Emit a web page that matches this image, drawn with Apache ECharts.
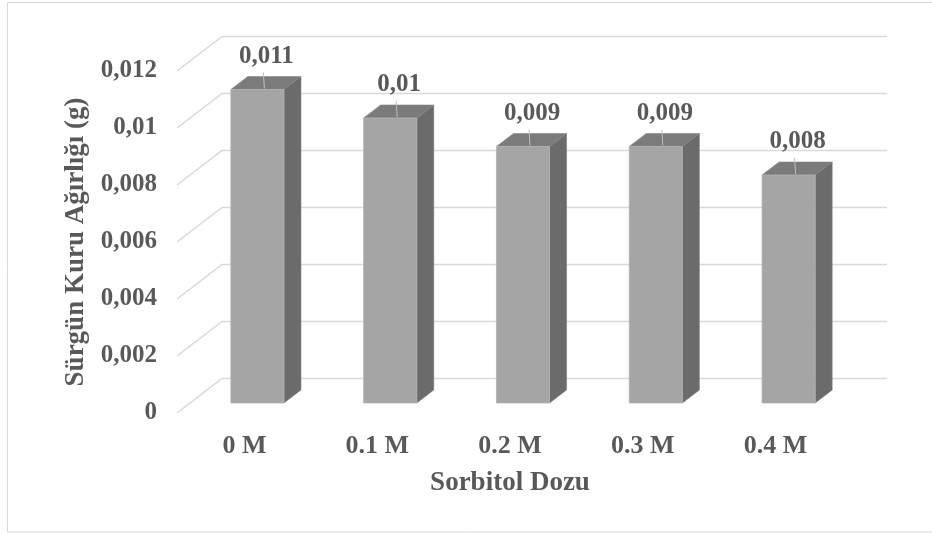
<!DOCTYPE html>
<html>
<head>
<meta charset="utf-8">
<script src="https://cdn.jsdelivr.net/npm/echarts@6/dist/echarts.min.js"></script>
<style>
html,body{margin:0;padding:0;background:#fff;}
#main{width:932px;height:534px;}
</style>
</head>
<body>
<div id="main"></div>
<script>
var categories = ['0 M', '0.1 M', '0.2 M', '0.3 M', '0.4 M'];
var values = [0.011, 0.010, 0.009, 0.009, 0.008];
var yTicks = [0, 0.002, 0.004, 0.006, 0.008, 0.010, 0.012];
var xTitle = 'Sorbitol Dozu';
var yTitle = 'Sürgün Kuru Ağırlığı (g)';

var FONT = '"Liberation Serif", "Times New Roman", serif';
var TXT = '#595959';

function fmt(v) {
  if (v === 0) return '0';
  return String(+v.toFixed(3)).replace('.', ',');
}

var chart = echarts.init(document.getElementById('main'), null, {renderer: 'canvas'});

// depth geometry (oblique projection)
var WALL_DX = 45, WALL_DY = -34.5;     // front plane -> back wall
var BAR_DX = 13, BAR_DY = -10;         // front plane -> bar front face
var SIDE_DX = 17, SIDE_DY = -13;       // bar thickness in depth
var WALL_RIGHT = 887;

var option = {
  animation: false,
  backgroundColor: '#ffffff',
  graphic: [{
    type: 'rect',
    shape: {x: 7.5, y: 2.5, width: 935, height: 529.5},
    style: {fill: 'none', stroke: '#d9d9d9', lineWidth: 1},
    silent: true
  }],
  grid: {left: 178, right: 90, top: 71, bottom: 121, containLabel: false},
  xAxis: {
    type: 'category',
    data: categories,
    boundaryGap: true,
    axisLine: {show: false},
    axisTick: {show: false},
    axisLabel: {
      margin: 20,
      fontFamily: FONT, fontWeight: 'bold', fontSize: 26, color: TXT
    },
    name: xTitle,
    nameLocation: 'middle',
    nameGap: 57,
    nameTextStyle: {fontFamily: FONT, fontWeight: 'bold', fontSize: 27, color: TXT}
  },
  yAxis: {
    type: 'value',
    min: 0, max: 0.012, interval: 0.002,
    axisLine: {show: false},
    axisTick: {show: false},
    splitLine: {show: false},
    axisLabel: {
      margin: 21,
      formatter: fmt,
      fontFamily: FONT, fontWeight: 'bold', fontSize: 25, color: TXT
    },
    name: yTitle,
    nameLocation: 'middle',
    nameRotate: 90,
    nameGap: 88,
    nameTextStyle: {fontFamily: FONT, fontWeight: 'bold', fontSize: 27, color: TXT}
  },
  series: [
    {
      type: 'custom',
      name: 'grid3d',
      silent: true,
      z: 1,
      data: yTicks.map(function (t) { return [0, t]; }),
      renderItem: function (params, api) {
        var y = api.coord([0, api.value(1)])[1];
        var x0 = params.coordSys.x - 1;
        return {
          type: 'polyline',
          shape: {points: [[x0, y], [x0 + WALL_DX, y + WALL_DY], [WALL_RIGHT, y + WALL_DY]]},
          style: {stroke: '#d9d9d9', lineWidth: 1.5, fill: 'none'}
        };
      }
    },
    {
      type: 'custom',
      name: 'bars',
      z: 5,
      data: values.map(function (v, i) { return [i, v]; }),
      renderItem: function (params, api) {
        var idx = api.value(0), v = api.value(1);
        var base = api.coord([idx, 0]);
        var top = api.coord([idx, v]);
        var bw = api.size([1, 0])[0] * 0.4;
        var cx = base[0] + BAR_DX;
        var y0 = base[1] + BAR_DY;
        var y1 = top[1] + BAR_DY;
        var xl = cx - bw / 2, xr = cx + bw / 2;
        return {
          type: 'group',
          children: [
            {type: 'polygon', shape: {points: [[xr, y1], [xr + SIDE_DX, y1 + SIDE_DY], [xr + SIDE_DX, y0 + SIDE_DY], [xr, y0]]},
             style: {fill: '#6b6b6b', stroke: '#7a7a7a', lineWidth: 0.6}},
            {type: 'polygon', shape: {points: [[xl, y1], [xl + SIDE_DX, y1 + SIDE_DY], [xr + SIDE_DX, y1 + SIDE_DY], [xr, y1]]},
             style: {fill: '#7b7b7b', stroke: '#888888', lineWidth: 0.6}},
            {type: 'rect', shape: {x: xl, y: y1, width: bw, height: y0 - y1},
             style: {fill: '#a5a5a5', stroke: '#b4b4b4', lineWidth: 0.8}},
            {type: 'line', shape: {x1: cx + 6, y1: y1 - 17, x2: cx + 7, y2: y1 - 1},
             style: {stroke: '#bfbfbf', lineWidth: 1}},
            {type: 'text', x: cx + 9, y: y1 - 33,
             style: {text: fmt(v), fill: TXT, font: 'bold 25px ' + FONT, align: 'center', verticalAlign: 'middle'}}
          ]
        };
      }
    }
  ]
};
chart.setOption(option);
</script>
</body>
</html>
